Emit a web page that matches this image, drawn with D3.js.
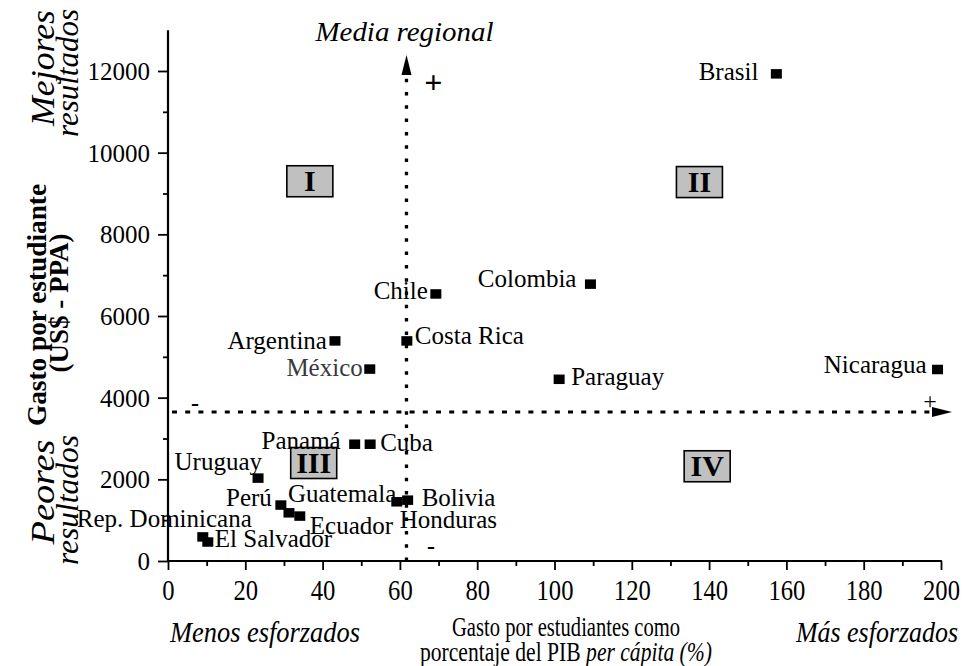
<!DOCTYPE html>
<html><head><meta charset="utf-8">
<script src="https://cdn.jsdelivr.net/npm/d3@7"></script>
<style>
body{margin:0;background:#fff}
svg{display:block}
text{font-family:"Liberation Serif","Times New Roman",serif;fill:#000}
</style>
</head><body>
<svg id="chart" width="965" height="666"></svg>
<script>
// ---- data ----
const countries = ["Brasil","Colombia","Chile","Costa Rica","Argentina","México","Paraguay","Nicaragua",
  "Panamá","Cuba","Uruguay","Perú","Guatemala","Ecuador","Honduras","Bolivia","Rep. Dominicana","El Salvador"];
const gastoPIB = [157.4,109.3,69.3,61.8,43.2,52.2,101.2,199.1,48.3,52.3,23.3,29.2,31.3,34.1,59.2,62.0,9.0,10.3];
const gastoUSD = [11930,6780,6540,5390,5390,4700,4450,4690,2860,2860,2030,1370,1180,1100,1450,1490,590,465];
const xTickValues = [0,20,40,60,80,100,120,140,160,180,200];
const xMinorTicks = [10,30,50,70,90,110,130,150,170,190];
const yTickValues = [0,2000,4000,6000,8000,10000,12000];
const yMinorTicks = [1000,3000,5000,7000,9000,11000];
const mediaRegionalX = 61.7;
const mediaRegionalY = 3650;
const quadrantNames = ["I","II","III","IV"];
const quadrantX = [36.7,137.5,37.7,139.5];
const quadrantY = [9300,9280,2400,2320];

// ---- label layout (anchor, dx, vertical offset of text centre) ----
const labelLayout = [
  ["end",-18,-2],["end",-14,-5],["end",-8,-3],["start",8,-5],["end",-8,0],["end",-7,-1],
  ["start",12,-2],["end",-11,-4],["end",-14,-3],["start",10,-1],["end",4,-16],["end",-9,-7],
  ["start",-1,-19],["start",10,10],["start",3,18],["start",14,-2],["end",49,-18],["start",7,-3]
];

const svg = d3.select("#chart");
const x = d3.scaleLinear().domain([0,200]).range([168,941]);
const y = d3.scaleLinear().domain([0,13000]).range([561,561-13000*490/12000]);

// ---- axes ----
const gy = svg.append("g").attr("transform",`translate(${x(0)},0)`);
gy.call(d3.axisLeft(y).tickValues(yTickValues).tickSize(10).tickFormat(d=>String(d)));
gy.append("g").call(d3.axisLeft(y).tickValues(yMinorTicks).tickSize(5).tickFormat(""));
gy.selectAll(".domain").remove();
gy.selectAll("line").attr("stroke","#000").attr("stroke-width",1.8);
gy.selectAll("text").attr("font-size",25).attr("x",-18).attr("dy","0.34em")
  .style("font-family",'"Liberation Serif",serif').attr("fill","#000");
svg.append("line").attr("x1",x(0)).attr("x2",x(0)).attr("y1",y(0)+1).attr("y2",y(13000))
  .attr("stroke","#000").attr("stroke-width",2.2);

const gx = svg.append("g").attr("transform",`translate(0,${y(0)})`);
gx.call(d3.axisBottom(x).tickValues(xTickValues).tickSize(9).tickFormat(d=>String(d)));
gx.append("g").call(d3.axisBottom(x).tickValues(xMinorTicks).tickSize(5).tickFormat(""));
gx.selectAll(".domain").remove();
gx.selectAll("line").attr("stroke","#000").attr("stroke-width",1.8);
gx.selectAll("text").attr("font-size",30).attr("y",39).attr("dy",0)
  .style("font-family",'"Liberation Serif",serif').attr("fill","#000")
  .attr("textLength",d=>String(d).length*12.3).attr("lengthAdjust","spacingAndGlyphs");
svg.append("line").attr("x1",x(0)-1).attr("x2",x(200)+1).attr("y1",y(0)).attr("y2",y(0))
  .attr("stroke","#000").attr("stroke-width",2.2);

// ---- media regional lines ----
const mx = x(mediaRegionalX), my = y(mediaRegionalY);
svg.append("line").attr("x1",mx).attr("x2",mx).attr("y1",y(0)).attr("y2",y(0)-487)
  .attr("stroke","#000").attr("stroke-width",3.3).attr("stroke-dasharray","3.5,9.8");
svg.append("path").attr("d",`M${mx},${y(0)-506}L${mx-5},${y(0)-486}L${mx+5},${y(0)-486}Z`).attr("fill","#000");
svg.append("line").attr("x1",x(0)+4).attr("x2",x(200)-9).attr("y1",my).attr("y2",my)
  .attr("stroke","#000").attr("stroke-width",3).attr("stroke-dasharray","5,8.2");
svg.append("path").attr("d",`M${x(200)+11},${my}L${x(200)-9},${my-5}L${x(200)-9},${my+5}Z`).attr("fill","#000");

// ---- quadrant boxes ----
const qg = svg.append("g");
quadrantNames.forEach((q,i)=>{
  const cx = x(quadrantX[i]), cy = y(quadrantY[i]);
  qg.append("rect").attr("x",cx-23).attr("y",cy-15.5).attr("width",46).attr("height",31)
    .attr("fill","#c0c0c0").attr("stroke","#000").attr("stroke-width",1.6);
  qg.append("text").attr("x",cx).attr("y",cy+10).attr("text-anchor","middle")
    .attr("font-size",30).attr("font-weight","bold").text(q);
});

// ---- points ----
const pts = countries.map((c,i)=>({c, x:gastoPIB[i], y:gastoUSD[i], l:labelLayout[i]}));
svg.append("g").selectAll("rect").data(pts).join("rect")
  .attr("x",d=>x(d.x)-5.5).attr("y",d=>y(d.y)-4.75).attr("width",11).attr("height",9.5).attr("fill","#000");
svg.append("g").selectAll("text").data(pts).join("text")
  .attr("x",d=>x(d.x)+d.l[1]).attr("y",d=>y(d.y)+d.l[2]+8)
  .attr("text-anchor",d=>d.l[0]).attr("font-size",25)
  .style("fill",d=>d.c==="México"?"#3a3a3a":"#000")
  .text(d=>d.c);

// ---- signs ----
svg.append("text").attr("x",mx+27).attr("y",93).attr("text-anchor","middle").attr("font-size",32).attr("font-weight","bold").text("+");
svg.append("text").attr("x",195).attr("y",411).attr("text-anchor","middle").attr("font-size",24).attr("font-weight","bold").text("-");
svg.append("text").attr("x",930).attr("y",409).attr("text-anchor","middle").attr("font-size",24).text("+");
svg.append("text").attr("x",431).attr("y",554).attr("text-anchor","middle").attr("font-size",24).attr("font-weight","bold").text("-");

// ---- titles ----
svg.append("text").attr("x",mx-2).attr("y",41).attr("text-anchor","middle").attr("font-size",27)
  .attr("font-style","italic").attr("textLength",178).attr("lengthAdjust","spacingAndGlyphs").text("Media regional");

function vtext(xb, yc, str, size, opts){
  const g = svg.append("g").attr("transform",`translate(${xb},${yc}) rotate(-90)`);
  const t = g.append("text").attr("text-anchor","middle").attr("font-size",size).text(str);
  if(opts.bold) t.attr("font-weight","bold");
  if(opts.italic) t.attr("font-style","italic");
  if(opts.len) t.attr("textLength",opts.len).attr("lengthAdjust","spacingAndGlyphs");
  return t;
}
vtext(54,68,"Mejores",34,{italic:true,len:116});
vtext(78,73,"resultados",32,{italic:true,len:128});
vtext(46,305,"Gasto por estudiante",27,{bold:true,len:242});
vtext(68,303,"(US$ - PPA)",27,{bold:true});
vtext(54,492,"Peores",34,{italic:true,len:105});
vtext(78,500,"resultados",32,{italic:true,len:130});

svg.append("text").attr("x",170).attr("y",642).attr("font-size",30).attr("font-style","italic")
  .attr("textLength",190).attr("lengthAdjust","spacingAndGlyphs").text("Menos esforzados");
svg.append("text").attr("x",958).attr("y",642).attr("text-anchor","end").attr("font-size",30).attr("font-style","italic")
  .attr("textLength",162).attr("lengthAdjust","spacingAndGlyphs").text("Más esforzados");
svg.append("text").attr("x",566).attr("y",636).attr("text-anchor","middle").attr("font-size",27)
  .attr("textLength",228).attr("lengthAdjust","spacingAndGlyphs").text("Gasto por estudiantes como");
const t2 = svg.append("g").attr("transform","translate(566,661) scale(0.8,1)")
  .append("text").attr("text-anchor","middle").attr("font-size",27);
t2.append("tspan").text("porcentaje del PIB ");
t2.append("tspan").attr("font-style","italic").text("per cápita (%)");
</script>
</body></html>
